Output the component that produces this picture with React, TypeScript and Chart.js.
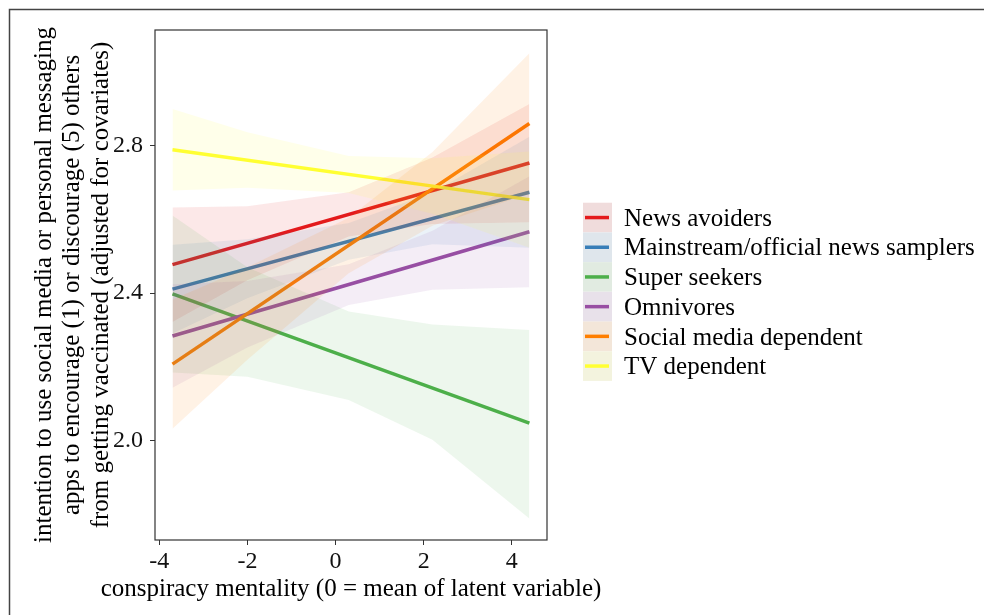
import React, { useEffect, useRef } from "react";
import { Chart, registerables } from "chart.js";

Chart.register(...registerables);

// ---------- data ----------
const groups = [
  "News avoiders",
  "Mainstream/official news samplers",
  "Super seekers",
  "Omnivores",
  "Social media dependent",
  "TV dependent",
];

// fitted lines (endpoints of the data range)
const lineX = [-3.7, 4.4];
const newsAvoidersLine = [2.477, 2.752];
const mainstreamLine = [2.411, 2.673];
const superSeekersLine = [2.398, 2.048];
const omnivoresLine = [2.284, 2.566];
const socialMediaLine = [2.208, 2.859];
const tvDependentLine = [2.788, 2.653];

// confidence bands
const bandX = [-3.7, -2, 0.3, 2.2, 4.4];
const newsAvoidersUpper = [2.632, 2.635, 2.673, 2.767, 2.912];
const newsAvoidersLower = [2.322, 2.435, 2.553, 2.587, 2.592];
const mainstreamUpper = [2.531, 2.546, 2.59, 2.672, 2.823];
const mainstreamLower = [2.291, 2.386, 2.49, 2.532, 2.523];
const superSeekersUpper = [2.61, 2.47, 2.35, 2.315, 2.3];
const superSeekersLower = [2.185, 2.174, 2.111, 2.003, 1.79];
const omnivoresUpper = [2.424, 2.433, 2.478, 2.569, 2.716];
const omnivoresLower = [2.144, 2.253, 2.368, 2.409, 2.416];
const socialMediaUpper = [2.383, 2.47, 2.604, 2.782, 3.049];
const socialMediaLower = [2.033, 2.22, 2.454, 2.582, 2.669];
const tvDependentUpper = [2.898, 2.835, 2.771, 2.765, 2.783];
const tvDependentLower = [2.678, 2.685, 2.671, 2.615, 2.523];

const xTicks = [-4, -2, 0, 2, 4];
const yTicks = [2.0, 2.4, 2.8];
const xTitle = "conspiracy mentality (0 = mean of latent variable)";
const yTitle = [
  "intention to use social media or personal messaging",
  "apps to encourage (1) or discourage (5) others",
  "from getting vaccinated (adjusted for covariates)",
];

const lines = [newsAvoidersLine, mainstreamLine, superSeekersLine, omnivoresLine, socialMediaLine, tvDependentLine];
const uppers = [newsAvoidersUpper, mainstreamUpper, superSeekersUpper, omnivoresUpper, socialMediaUpper, tvDependentUpper];
const lowers = [newsAvoidersLower, mainstreamLower, superSeekersLower, omnivoresLower, socialMediaLower, tvDependentLower];

// ---------- style ----------
const palette = ["#E41A1C", "#377EB8", "#4DAF4A", "#984EA3", "#FF7F00", "#FFFF33"];
const FONT = "'Liberation Serif', 'Times New Roman', serif";

function rgba(hex: string, a: number) {
  const r = parseInt(hex.slice(1, 3), 16);
  const g = parseInt(hex.slice(3, 5), 16);
  const b = parseInt(hex.slice(5, 7), 16);
  return `rgba(${r},${g},${b},${a})`;
}

const decorPlugin = {
  id: "decor",
  afterDraw(chart: any) {
    const { ctx, chartArea } = chart;
    ctx.save();
    // outer figure frame
    ctx.strokeStyle = "#444";
    ctx.lineWidth = 1.5;
    ctx.strokeRect(9.5, 9.5, 2000, 2000);
    // panel border
    ctx.strokeStyle = "#333";
    ctx.lineWidth = 1.2;
    ctx.strokeRect(chartArea.left, chartArea.top, chartArea.right - chartArea.left, chartArea.bottom - chartArea.top);

    // x-axis title
    ctx.fillStyle = "#000";
    ctx.font = `25px ${FONT}`;
    ctx.textAlign = "center";
    ctx.textBaseline = "middle";
    ctx.fillText(xTitle, (chartArea.left + chartArea.right) / 2, 589);

    // legend
    const lx = chartArea.right + 36;
    const top0 = 202.7;
    const rowH = 29.7;
    const keyW = 29;
    groups.forEach((g, i) => {
      const top = top0 + i * rowH;
      ctx.fillStyle = "#F2F2F2";
      ctx.fillRect(lx, top, keyW, rowH);
      ctx.fillStyle = rgba(palette[i], 0.1);
      ctx.fillRect(lx, top, keyW, rowH);
      ctx.strokeStyle = palette[i];
      ctx.lineWidth = 3.5;
      ctx.beginPath();
      ctx.moveTo(lx + 2, top + rowH / 2);
      ctx.lineTo(lx + keyW - 3, top + rowH / 2);
      ctx.stroke();
      ctx.fillStyle = "#000";
      ctx.font = `25px ${FONT}`;
      ctx.textBaseline = "alphabetic";
      ctx.textAlign = "left";
      ctx.fillText(g, lx + 41, top + 23);
    });
    ctx.restore();
  },
};

export default function App() {
  const ref = useRef<HTMLCanvasElement | null>(null);

  useEffect(() => {
    if (!ref.current) return;
    const datasets: any[] = [];
    groups.forEach((g, i) => {
      datasets.push({
        type: "line",
        label: g,
        data: lineX.map((x, j) => ({ x, y: lines[i][j] })),
        borderColor: palette[i],
        borderWidth: 3.5,
        borderCapStyle: "butt",
        pointRadius: 0,
        fill: false,
        tension: 0,
        order: 40 - i,
      });
    });
    groups.forEach((g, i) => {
      const lowerIndex = datasets.length;
      datasets.push({
        type: "line",
        label: g + " lower",
        data: bandX.map((x, j) => ({ x, y: lowers[i][j] })),
        borderWidth: 0,
        borderColor: "rgba(0,0,0,0)",
        pointRadius: 0,
        fill: false,
        tension: 0,
        order: 20 - i,
      });
      datasets.push({
        type: "line",
        label: g + " upper",
        data: bandX.map((x, j) => ({ x, y: uppers[i][j] })),
        borderWidth: 0,
        borderColor: "rgba(0,0,0,0)",
        backgroundColor: rgba(palette[i], 0.1),
        pointRadius: 0,
        fill: { target: lowerIndex },
        tension: 0,
        order: 20 - i,
      });
    });

    const tickFont = { family: FONT, size: 24 };
    const titleFont = { family: FONT, size: 25, lineHeight: 1.14 };

    const chart = new Chart(ref.current, {
      type: "line",
      data: { datasets },
      plugins: [decorPlugin],
      options: {
        animation: false,
        responsive: false,
        layout: { padding: { left: 0, top: 30, right: 437, bottom: 0 } },
        plugins: {
          legend: { display: false },
          tooltip: { enabled: false },
          filler: { propagate: false },
        },
        scales: {
          x: {
            type: "linear",
            min: -4.097,
            max: 4.8,
            afterBuildTicks: (s: any) => {
              s.ticks = xTicks.map((v) => ({ value: v }));
            },
            afterFit: (s: any) => {
              s.height = 75;
            },
            border: { display: false },
            grid: { display: true, drawOnChartArea: false, drawTicks: true, tickLength: 5, color: "#333", lineWidth: 1 },
            ticks: { font: tickFont, color: "#111", padding: 2, maxRotation: 0, callback: (v: any) => `${v}` },
            title: { display: false },
          },
          y: {
            type: "linear",
            min: 1.732,
            max: 3.112,
            afterBuildTicks: (s: any) => {
              s.ticks = yTicks.map((v) => ({ value: v }));
            },
            afterFit: (s: any) => {
              s.width = 155;
            },
            border: { display: false },
            grid: { display: true, drawOnChartArea: false, drawTicks: true, tickLength: 5, color: "#333", lineWidth: 1 },
            ticks: { font: tickFont, color: "#111", padding: 7, callback: (v: any) => Number(v).toFixed(1) },
            title: { display: true, text: yTitle, font: titleFont, color: "#000", padding: { top: 30, bottom: 0 } },
          },
        },
      } as any,
    });
    return () => chart.destroy();
  }, []);

  return (
    <div style={{ position: "fixed", left: 0, top: 0, width: 984, height: 615, background: "#fff", overflow: "hidden" }}>
      <canvas ref={ref} width={984} height={615} style={{ display: "block" }} />
    </div>
  );
}
